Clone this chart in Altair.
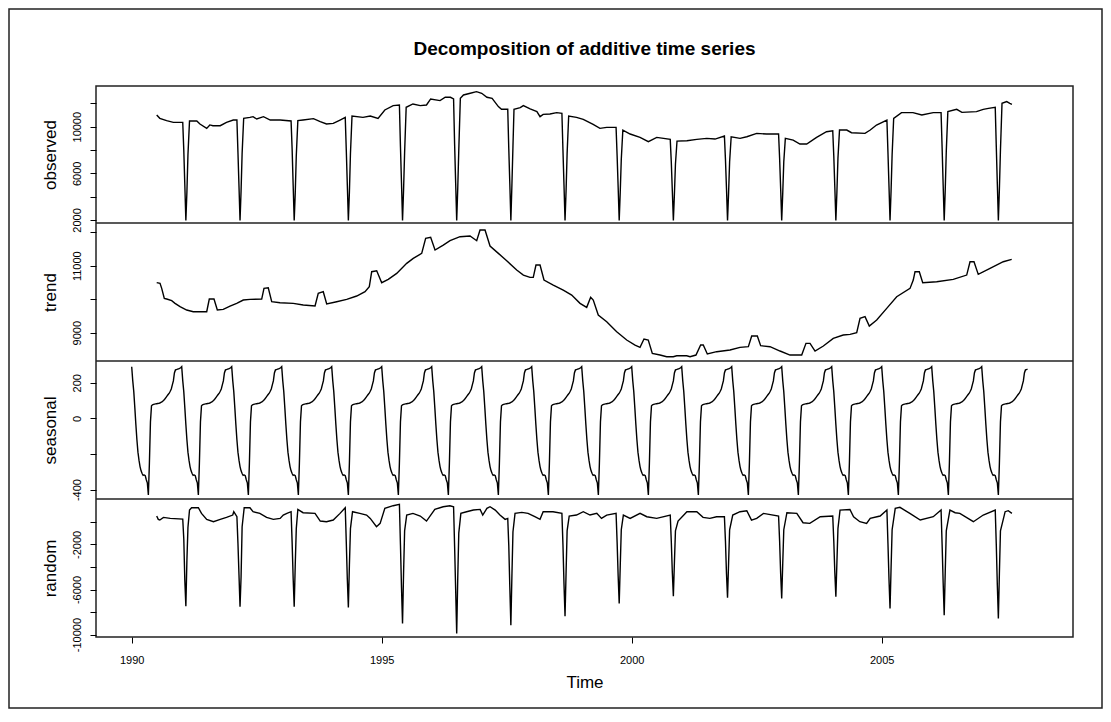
import json
import altair as alt
import pandas as pd

TITLE = "Decomposition of additive time series"
FONT = "Liberation Sans"
START_YEAR = 1990
WEEKS_PER_UNIT = 48
X_TICKS = [1990, 1995, 2000, 2005]

# (week index from 1990.0, value)
observed_points = [
    (24, 11003), (27, 10717), (33.5, 10516), (40, 10373), (49, 10373),
    (50, 8000), (51, 5000), (52, 1950), (53, 4400), (54, 7600),
    (55.5, 10487), (62.5, 10487), (65.5, 10229), (72, 9857), (75, 10150), (78, 10086), (85, 10086), (91, 10373), (97.5, 10573), (101, 10573),
    (102, 7800), (103, 4900), (104, 1950), (105, 4500), (106, 7700),
    (107.5, 10717), (113.5, 10802), (116.5, 10860), (120, 10659), (126.5, 10860), (133, 10573), (142.5, 10573), (153, 10487),
    (154, 8100), (155, 5000), (156, 1950), (157, 4300), (158, 7500),
    (159.5, 10516), (164.5, 10573), (174.5, 10688), (181, 10430), (187, 10229), (193.5, 10286), (200, 10573), (205, 10802),
    (206, 8000), (207, 5000), (208, 1950), (209, 4400), (210, 7700),
    (211.5, 10917), (222, 10802), (229, 10917), (236.5, 10717), (243, 11433), (251, 11806), (257, 11863),
    (258, 8300), (259, 5200), (260, 1950), (261, 4600), (262, 7800),
    (263.5, 11662), (270, 11949), (277, 11806), (283, 11863), (287, 12379), (296, 12235), (301, 12522), (306, 12522), (309, 12379),
    (310, 8500), (311, 5200), (312, 1950), (313, 4700), (314, 8000),
    (315.5, 12436), (318.5, 12722), (325, 12866), (331, 13009), (336, 12866), (341, 12522), (346, 12436), (352, 11720), (355, 11490), (361, 11490),
    (362, 8100), (363, 5100), (364, 1950), (365, 5000), (366, 8300),
    (367, 11490), (373, 11634), (376, 11806), (382.5, 11519), (389, 11290), (392, 10860), (395, 11060), (401.5, 11090), (408, 11204), (413, 11146),
    (414, 8000), (415, 5000), (416, 1950), (417, 4500), (418, 7700),
    (419.5, 10917), (427, 10802), (433.5, 10630), (443, 10200), (449.5, 9857), (456, 9943), (465, 9943),
    (466, 7500), (467, 4800), (468, 1950), (469, 4400), (470, 7200),
    (471.5, 9713), (478.5, 9370), (488, 9083), (496, 8710), (504, 9083), (517, 8911),
    (518, 7000), (519, 4500), (520, 1950), (521, 4200), (522, 6800),
    (523.5, 8768), (533, 8796), (542.5, 8911), (552, 8997), (560, 8940), (569, 9197),
    (570, 7200), (571, 4700), (572, 1950), (573, 4300), (574, 7000),
    (575.5, 9140), (584, 8997), (590.5, 9140), (600, 9427), (609.5, 9370), (621, 9370),
    (622, 7300), (623, 4700), (624, 1950), (625, 4300), (626, 7000),
    (627.5, 8997), (635, 8854), (641.5, 8510), (648, 8510), (657.5, 9083), (667, 9570), (673, 9656),
    (674, 7500), (675, 4800), (676, 1950), (677, 4400), (678, 7300),
    (679.5, 9713), (686.5, 9713), (691, 9484), (704, 9427), (709, 9713), (715, 10143), (725, 10573),
    (726, 7800), (727, 4900), (728, 1950), (729, 4500), (730, 7600),
    (731.5, 10717), (739, 11204), (750, 11204), (758.5, 11003), (769.5, 11204), (777, 11204),
    (778, 8200), (779, 5000), (780, 1950), (781, 4600), (782, 7900),
    (783.5, 11290), (792, 11490), (797, 11232), (811, 11290), (817.5, 11490), (822.5, 11576), (829, 11662),
    (830, 8300), (831, 5100), (832, 1950), (833, 4700), (834, 8000),
    (835.5, 12006), (840, 12150), (843, 12006), (845, 11920),
]

trend_points = [
    (24, 10493), (27.2, 10473), (28.8, 10323), (31.3, 10025), (33.6, 10005), (38.4, 9955), (41.6, 9876), (46.4, 9776),
    (52.8, 9677), (59.1, 9627), (72, 9627), (74.5, 10005), (79, 10005), (82.2, 9677), (87.9, 9697), (94.4, 9796),
    (100.8, 9876), (107.1, 9975), (113.6, 9995), (124.8, 10005), (127, 10323), (131.1, 10343), (134.4, 9925),
    (142.4, 9896), (155.1, 9876), (164.7, 9826), (176, 9796), (179.1, 10174), (183.9, 10224), (187.2, 9856),
    (196.8, 9925), (206.4, 9995), (216, 10095), (224, 10224), (228.1, 10373), (230.4, 10821), (235.2, 10851),
    (240, 10493), (246.3, 10592), (254.4, 10771), (264, 11070), (270.3, 11219), (278.4, 11368), (282.2, 11816),
    (287, 11846), (291.2, 11468), (299.1, 11617), (305.6, 11746), (315.2, 11866), (324.8, 11886), (331.2, 11746),
    (334.4, 12065), (339.2, 12065), (344, 11587), (352, 11368), (360, 11149), (369.6, 10871), (376, 10721),
    (382.4, 10652), (385.5, 10652), (388.1, 11020), (392, 11020), (395.8, 10572), (404.7, 10423), (414.3, 10274),
    (422.4, 10124), (430.4, 9876), (436.8, 9756), (440.6, 10055), (443.1, 9975), (447.9, 9527), (456, 9328),
    (465.6, 9030), (475.2, 8781), (483.2, 8632), (488, 8562), (491.8, 8811), (495.9, 8781), (499.8, 8383),
    (507.2, 8333), (513.6, 8284), (519.9, 8284), (523.2, 8313), (532.8, 8313), (536, 8284), (541.7, 8333),
    (546.2, 8632), (548.7, 8632), (552.6, 8363), (561.6, 8433), (574.4, 8483), (584, 8562), (592, 8582),
    (595.2, 8901), (600.6, 8901), (603.8, 8612), (612.8, 8582), (622.4, 8453), (632, 8333), (643.2, 8333),
    (647.3, 8682), (651.2, 8682), (656, 8453), (664, 8602), (673.5, 8831), (683.1, 8930), (689.6, 8950),
    (696, 9000), (699.2, 9428), (704, 9478), (708.1, 9199), (715.2, 9378), (724.8, 9726), (734.4, 10075),
    (747.2, 10323), (750.3, 10572), (752, 10821), (756.1, 10821), (759.4, 10493), (772.8, 10522), (788.7, 10592),
    (801.6, 10721), (804.8, 11119), (808.6, 11119), (812.7, 10741), (824, 10920), (836.7, 11119), (844.8, 11189),
]

# one year (48 weekly values) of the seasonal figure, repeated through the series
seasonal_figure = [
    290, 212, 150, 60, -35, -120, -190, -235, -271, -295, -310, -320,
    -318, -322, -345, -362, -430, -250, -20, 70, 76, 78, 80, 81,
    82, 83, 84, 86, 89, 92, 97, 103, 110, 118, 126, 134,
    142, 152, 165, 188, 210, 255, 272, 274, 276, 278, 280, 284,
]
SEASONAL_WEEKS = 861

random_points = [
    (24, 515), (25.5, 219), (27, 160), (30.5, 396), (37, 308), (49, 249),
    (50, -1500), (51, -5200), (52, -7474), (53, -3400), (54, -500),
    (55.5, 1047), (57.5, 1255), (64, 1255), (67, 752), (72, 219), (78.5, 12), (85, 219), (91, 396), (97, 604), (98, 900), (101, 456),
    (102, -1900), (103, -4717), (104, -7533), (105, -4865), (106, -432),
    (108, 1255), (113.5, 1255), (116.5, 900), (123, 752), (129.5, 396), (136, 219), (142.5, 308), (145.5, 604), (149, 752), (153, 900),
    (154, -1800), (155, -5000), (156, -7533), (157, -3800), (158, -600),
    (159.5, 1107), (164.5, 811), (176, 752), (181, 71), (187, 12), (193.5, 160), (200, 752), (205, 1255),
    (206, -1800), (207, -5100), (208, -7600), (209, -3800), (210, -600),
    (212, 900), (219, 752), (225.5, 604), (229, 308), (235, -432), (238.5, -136), (243, 1195), (251, 1432), (257, 1551),
    (258, -2000), (259, -5800), (260, -9017), (261, -4500), (262, -800),
    (264, 604), (270, 752), (277, 515), (283, 71), (291, 1107), (299, 1343), (305.5, 1432), (309, 1343),
    (310, -2200), (311, -6000), (312, -9900), (313, -5000), (314, -1000),
    (316, 752), (321.5, 900), (328, 1047), (334.5, 1107), (337, 604), (341, 1195), (344, 1343), (349, 1047), (353.5, 604), (358.5, 219), (361, 308),
    (362, -2100), (363, -5800), (364, -9165), (365, -4800), (366, -900),
    (368, 752), (374.5, 841), (380.5, 752), (387, 456), (392, 219), (395, 900), (404.5, 900), (413, 752),
    (414, -2000), (415, -5500), (416, -8366), (417, -4500), (418, -800),
    (420, 515), (427, 604), (433.5, 900), (440, 604), (446.5, 752), (451, 308), (456, 604), (465, 752),
    (466, -1800), (467, -4800), (468, -7237), (469, -3900), (470, -700),
    (472, 604), (478.5, 308), (488, 752), (494.5, 456), (504, 308), (517, 604),
    (518, -1700), (519, -4500), (520, -6586), (521, -3600), (522, -800),
    (524.5, 71), (533, 900), (542.5, 900), (548.5, 396), (555, 308), (561.5, 456), (569, 456),
    (570, -1700), (571, -4600), (572, -6734), (573, -3700), (574, -700),
    (577, 604), (584, 900), (590.5, 989), (595, 160), (600, 308), (606.5, 752), (621, 515),
    (622, -1700), (623, -4600), (624, -6793), (625, -3700), (626, -700),
    (629, 811), (638.5, 752), (644.5, -77), (651, -136), (661, 456), (673, 515),
    (674, -1700), (675, -4500), (676, -6645), (677, -3600), (678, -600),
    (680, 1047), (689.5, 1100), (693, 456), (699, 12), (705.5, -136), (709, 309), (718.5, 516), (725, 1049),
    (726, -1900), (727, -5100), (728, -7692), (729, -4100), (730, -700),
    (733, 1197), (737.5, 1286), (747, 753), (757, 160), (769.5, 456), (777, 1049),
    (778, -2000), (779, -5400), (780, -8285), (781, -4400), (782, -800),
    (785.5, 1049), (790.5, 812), (795, 753), (808, 12), (817.5, 605), (829, 1049),
    (830, -2000), (831, -5600), (832, -8581), (833, -4500), (834, -800),
    (838.5, 901), (841.5, 990), (845, 753),
]

obs_ticks = [2000, 4000, 6000, 8000, 10000, 12000]
obs_labels = [2000, 6000, 10000]
trend_ticks = [9000, 10000, 11000, 12000]
trend_labels = [9000, 11000]
seas_ticks = [-400, -200, 0, 200]
seas_labels = [-400, 0, 200]
rand_ticks = [-10000, -8000, -6000, -4000, -2000, 0]
rand_labels = [-10000, -6000, -2000]

# ---- layout ----
W, H = 977, 551
PAD = {"left": 88, "top": 78, "right": 30, "bottom": 72}
X_DOMAIN = [1989.286, 2008.826]
BOUNDS = [(0, 137), (137, 275), (275, 413), (413, 551)]
OBS_DOMAIN = [1740, 13490]
TREND_DOMAIN = [8155, 12275]
SEAS_DOMAIN = [-453, 322]
RAND_DOMAIN = [-10213, 2027]


def to_frame(points):
    return pd.DataFrame({
        "t": [START_YEAR + w / WEEKS_PER_UNIT for w, _ in points],
        "v": [v for _, v in points],
    })


seasonal_points = [(w, seasonal_figure[w % len(seasonal_figure)]) for w in range(SEASONAL_WEEKS)]


def panel(points, title, domain, bounds, ticks, labels, x_axis=None):
    top, bottom = bounds
    label_expr = "indexof(%s, datum.value) >= 0 ? '' + datum.value : ''" % json.dumps(labels)
    return alt.Chart(to_frame(points)).mark_line(color="black", strokeWidth=1.4).encode(
        x=alt.X("t:Q", scale=alt.Scale(domain=X_DOMAIN, nice=False, zero=False), axis=x_axis),
        y=alt.Y(
            "v:Q",
            scale=alt.Scale(domain=domain, range=[bottom, top], nice=False, zero=False),
            axis=alt.Axis(
                orient="left", values=ticks, labelExpr=label_expr, title=title,
                titleX=-41, titleY=(top + bottom) / 2, titleAngle=270,
                titleAlign="center", titleBaseline="alphabetic",
                titleFont=FONT, titleFontSize=17, titleFontWeight="normal", titleColor="black",
                labelAngle=270, labelAlign="center", labelBaseline="alphabetic",
                labelPadding=10, labelFont=FONT, labelFontSize=11, labelColor="black",
                labelOverlap=False, labelFlush=False,
                tickSize=6, tickColor="black", tickWidth=1, domain=False, grid=False,
            ),
        ),
    )


x_axis = alt.Axis(
    values=X_TICKS, format="d", title="Time", grid=False, domain=False,
    tickSize=6, tickColor="black", tickWidth=1,
    labelFont=FONT, labelFontSize=11, labelColor="black", labelPadding=20,
    labelBaseline="alphabetic", labelAlign="center", labelFlush=False,
    titleFont=FONT, titleFontSize=17, titleFontWeight="normal", titleColor="black",
    titleX=W / 2, titleY=50, titleAlign="center", titleBaseline="alphabetic",
)

obs = panel(observed_points, "observed", OBS_DOMAIN, BOUNDS[0], obs_ticks, obs_labels)
trend = panel(trend_points, "trend", TREND_DOMAIN, BOUNDS[1], trend_ticks, trend_labels)
seas = panel(seasonal_points, "seasonal", SEAS_DOMAIN, BOUNDS[2], seas_ticks, seas_labels)
rand = panel(random_points, "random", RAND_DOMAIN, BOUNDS[3], rand_ticks, rand_labels, x_axis=x_axis)

one = pd.DataFrame({"s": [TITLE]})
separators = [
    alt.Chart(one).mark_rule(color="#222", strokeWidth=1.5).encode(
        x=alt.value(0), x2=alt.value(W), y=alt.value(b[1])
    )
    for b in BOUNDS[:3]
]
title = alt.Chart(one).mark_text(
    font=FONT, fontSize=19, fontWeight="bold", align="center", baseline="alphabetic", color="black"
).encode(text="s:N", x=alt.value(W / 2), y=alt.value(-31))

# outer picture frame, just inside the chart's padding
outer_frame = alt.Chart(one).mark_rect(filled=False, stroke="#222", strokeWidth=1.5).encode(
    x=alt.value(-PAD["left"] + 1),
    x2=alt.value(W + PAD["right"] - 1),
    y=alt.value(-PAD["top"] + 1),
    y2=alt.value(H + PAD["bottom"] - 1),
)

chart = alt.layer(obs, trend, seas, rand, *separators, title, outer_frame).resolve_scale(
    y="independent"
).resolve_axis(y="independent", x="independent").properties(
    width=W, height=H,
    autosize=alt.AutoSizeParams(type="none"),
    padding=PAD,
    background="white",
).configure_view(stroke="#222", strokeWidth=1.5)

chart.save("out.html", embed_options={"renderer": "svg", "actions": False})
